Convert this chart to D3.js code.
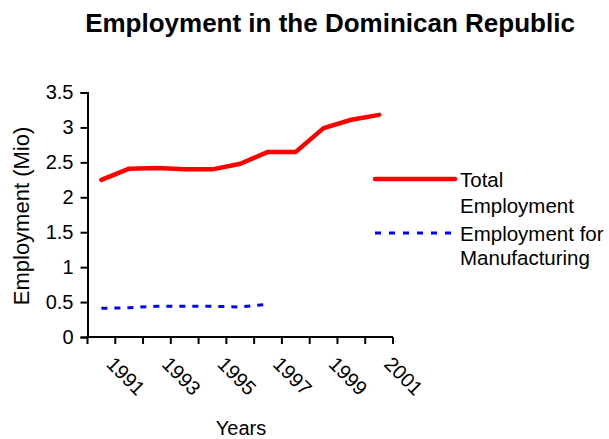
<!DOCTYPE html>
<html>
<head>
<meta charset="utf-8">
<script src="https://cdn.jsdelivr.net/npm/d3@7"></script>
<style>
  body { margin: 0; background: #fff; }
  text { font-family: "Liberation Sans", Arial, sans-serif; fill: #000; }
</style>
</head>
<body>
<svg id="chart" width="609" height="439"></svg>
<script>
// values
var years = ["1991", "1992", "1993", "1994", "1995", "1996", "1997", "1998", "1999", "2000", "2001"];
var totalEmployment = [2.25, 2.41, 2.42, 2.40, 2.40, 2.48, 2.65, 2.65, 2.99, 3.11, 3.18];
var manufacturing = [0.41, 0.42, 0.44, 0.44, 0.44, 0.43, 0.47];
var yTicks = [0, 0.5, 1, 1.5, 2, 2.5, 3, 3.5];
var seriesNames = [["Total", "Employment"], ["Employment for", "Manufacturing"]];

var svg = d3.select("#chart");

var plot = {left: 87.5, right: 393, top: 92.5, bottom: 337};

var x = d3.scaleBand()
    .domain(years)
    .range([plot.left, plot.right]);

var y = d3.scaleLinear()
    .domain([0, 3.5])
    .range([plot.bottom, plot.top]);

// title
svg.append("text")
    .attr("x", 330)
    .attr("y", 31.5)
    .attr("text-anchor", "middle")
    .style("font-size", "26px")
    .style("font-weight", "bold")
    .text("Employment in the Dominican Republic");

// y axis
var yAxis = svg.append("g")
    .attr("transform", `translate(${plot.left},0)`)
    .call(d3.axisLeft(y).tickValues(yTicks).tickSize(7).tickPadding(7).tickFormat(d3.format("")));

yAxis.select(".domain").attr("stroke-width", 2);
yAxis.selectAll(".tick line").attr("stroke-width", 2);
yAxis.selectAll(".tick text")
    .style("font-size", "20px")
    .style("font-family", "'Liberation Sans', Arial, sans-serif")
    .attr("fill", "#000");

// x axis, ticks between categories
var xAxis = svg.append("g")
    .attr("transform", `translate(0,${plot.bottom})`);

xAxis.append("line")
    .attr("x1", plot.left).attr("x2", plot.right)
    .attr("stroke", "#000").attr("stroke-width", 2);

var bounds = years.map((d) => x(d)).concat([x(years[years.length - 1]) + x.bandwidth()]);
xAxis.selectAll(".xtick")
    .data(bounds)
    .enter().append("line")
    .attr("class", "xtick")
    .attr("x1", (d) => d).attr("x2", (d) => d)
    .attr("y1", 0).attr("y2", 7)
    .attr("stroke", "#000").attr("stroke-width", 2);

xAxis.selectAll(".xlabel")
    .data(years.filter((d, i) => i % 2 === 0))
    .enter().append("text")
    .attr("class", "xlabel")
    .attr("transform", (d) => `translate(${x(d) + x.bandwidth() / 2 + 14},18) rotate(45)`)
    .attr("dy", "0.72em")
    .style("font-size", "20px")
    .text((d) => d);

// axis titles
svg.append("text")
    .attr("x", 241)
    .attr("y", 435)
    .attr("text-anchor", "middle")
    .style("font-size", "20px")
    .text("Years");

svg.append("text")
    .attr("transform", "translate(29,216) rotate(-90)")
    .attr("text-anchor", "middle")
    .style("font-size", "22px")
    .text("Employment (Mio)");

// lines
var line = d3.line()
    .x((d, i) => x(years[i]) + x.bandwidth() / 2)
    .y((d) => y(d));

svg.append("path")
    .datum(totalEmployment)
    .attr("d", line)
    .attr("fill", "none")
    .attr("stroke", "#ff0000")
    .attr("stroke-width", 4.5)
    .attr("stroke-linecap", "round")
    .attr("stroke-linejoin", "round");

svg.append("path")
    .datum(manufacturing)
    .attr("d", line)
    .attr("fill", "none")
    .attr("stroke", "#0000ff")
    .attr("stroke-width", 3)
    .attr("stroke-dasharray", "6,7");

// legend
var legend = svg.append("g");

legend.append("line")
    .attr("x1", 375).attr("x2", 455)
    .attr("y1", 179).attr("y2", 179)
    .attr("stroke", "#ff0000").attr("stroke-width", 4.5)
    .attr("stroke-linecap", "round");

legend.append("line")
    .attr("x1", 375).attr("x2", 457)
    .attr("y1", 233).attr("y2", 233)
    .attr("stroke", "#0000ff").attr("stroke-width", 3)
    .attr("stroke-dasharray", "6,8");

var baselines = [[187, 213], [241, 265]];
seriesNames.forEach(function(lines, k) {
  lines.forEach(function(t, j) {
    legend.append("text")
        .attr("x", 460)
        .attr("y", baselines[k][j])
        .style("font-size", "20.5px")
        .text(t);
  });
});
</script>
</body>
</html>
